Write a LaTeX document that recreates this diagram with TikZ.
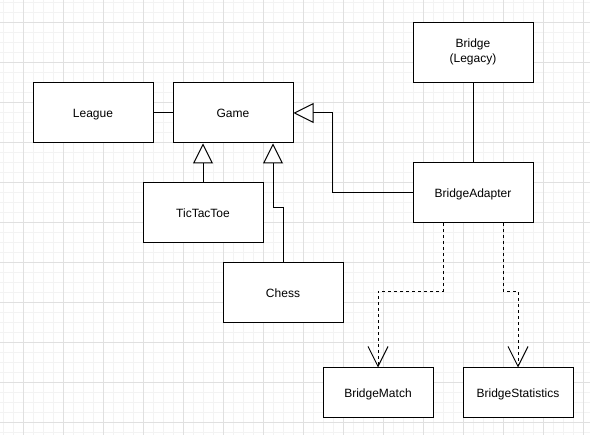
\documentclass[tikz,border=0pt]{standalone}
\usepackage{fontspec}
\setmainfont{Liberation Sans}
\usetikzlibrary{arrows.meta}
\definecolor{gridminor}{HTML}{F3F3F3}
\definecolor{gridmajor}{HTML}{E0E0E0}
\tikzset{
  clsbase/.style={draw=black, fill=white, line width=1pt, rectangle, inner sep=0pt,
    minimum width=120pt, minimum height=60pt, align=center,
    font=\fontsize{12}{15}\selectfont},
  cls/.style={clsbase, text height=11.6pt, text depth=3pt},
  smallcls/.style={cls, minimum width=110pt, minimum height=50pt},
  assoc/.style={draw=black, line width=1pt},
  inh/.style={draw=black, line width=1pt,
    -{Triangle[open, length=20pt, width=20pt, fill=white]}},
  dep/.style={draw=black, line width=1pt, dash pattern=on 3pt off 3pt,
    -{Straight Barb[length=20pt, width=20pt]}}
}
\begin{document}
\begin{tikzpicture}[x=1pt, y=-1pt]
\useasboundingbox (0,0) rectangle (590,435);
\fill[white] (0,0) rectangle (590,435);
% grid
\foreach \i in {3,13,...,583} \draw[gridminor, line width=1pt] (\i,0) -- (\i,435);
\foreach \j in {3,13,...,433} \draw[gridminor, line width=1pt] (0,\j) -- (590,\j);
\foreach \i in {23,63,...,583} \draw[gridmajor, line width=1pt] (\i,0) -- (\i,435);
\foreach \j in {23,63,...,423} \draw[gridmajor, line width=1pt] (0,\j) -- (590,\j);
% classes
\node[cls] (league) at (93,113) {League};
\node[cls] (game) at (233,113) {Game};
\node[clsbase, minimum height=60pt] (bridge) at (473,53) {};
\node[align=center, inner sep=0pt, font=\fontsize{12}{15}\selectfont] (bridgetext) at ([yshift=1pt]bridge.center) {Bridge\\(Legacy)};
\node[cls] (ba) at (473,193) {BridgeAdapter};
\node[cls] (ttt) at (203,213) {TicTacToe};
\node[cls] (chess) at (283,293) {Chess};
\node[smallcls] (bm) at (378,393) {BridgeMatch};
\node[smallcls] (bs) at (518,393) {BridgeStatistics};
% connectors
\draw[assoc] (league.east) -- (game.west);
\draw[assoc] (bridge.south) -- (ba.north);
\draw[inh] (ttt.north) -- (game.south -| ttt.north);
\draw[inh] (chess.north) -- ++(0,-55) -| ([xshift=40pt]game.south);
\draw[inh] (ba.west) -- ++(-80,0) |- (game.east);
\draw[dep] ([xshift=-30pt]ba.south) -- ++(0,68) -| (bm.north);
\draw[dep] ([xshift=30pt]ba.south) -- ++(0,68) -| (bs.north);
\end{tikzpicture}
\end{document}
